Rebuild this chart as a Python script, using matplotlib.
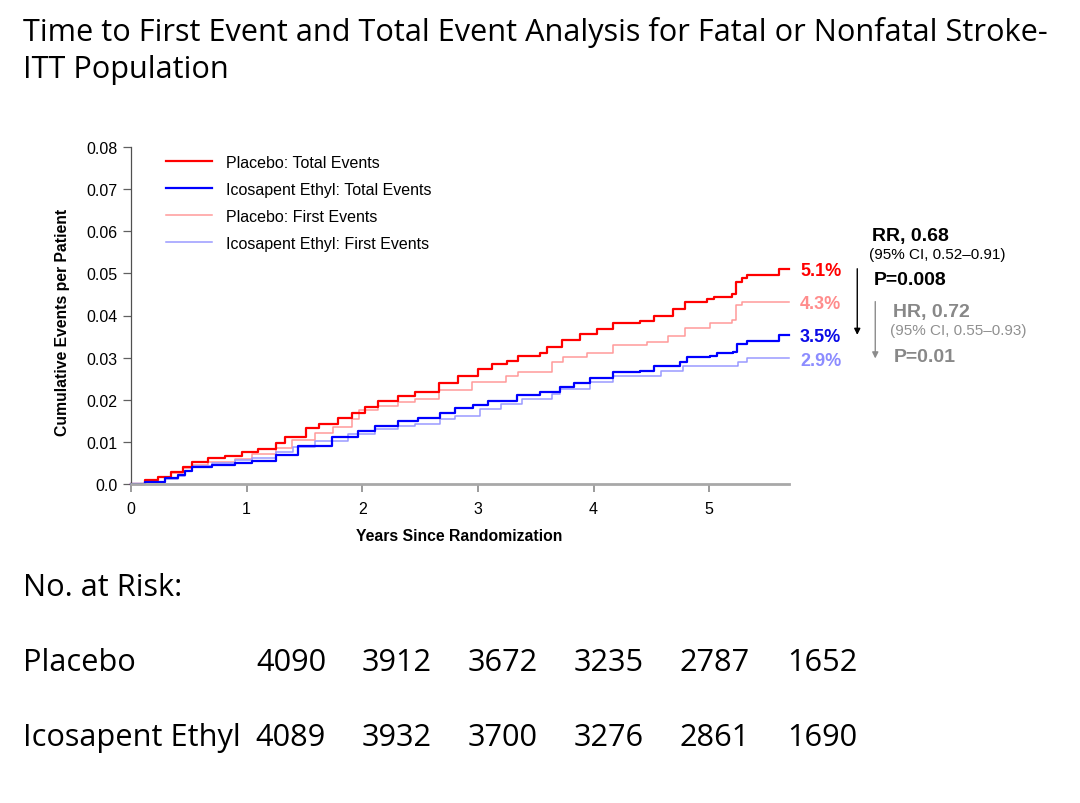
import matplotlib
matplotlib.use('Agg')
import matplotlib.pyplot as plt
from matplotlib import font_manager as fm
import numpy as np

# ---------------- data ----------------
title_lines = ["Time to First Event and Total Event Analysis for Fatal or Nonfatal Stroke-",
               "ITT Population"]

t_pbo_total = [0, 0.12, 0.23, 0.35, 0.45, 0.53, 0.67, 0.81, 0.96, 1.10, 1.25, 1.33, 1.51, 1.63,
               1.79, 1.91, 2.02, 2.14, 2.31, 2.46, 2.66, 2.83, 3.00, 3.12, 3.25, 3.35, 3.54, 3.60,
               3.73, 3.88, 4.03, 4.17, 4.40, 4.52, 4.69, 4.79, 4.98, 5.04, 5.20, 5.23, 5.28, 5.33,
               5.60, 5.69]
v_pbo_total = [0, 0.0010, 0.0017, 0.0029, 0.0040, 0.0052, 0.0061, 0.0067, 0.0075, 0.0084, 0.0098,
               0.0112, 0.0133, 0.0143, 0.0157, 0.0168, 0.0182, 0.0196, 0.0210, 0.0219, 0.0240,
               0.0257, 0.0272, 0.0285, 0.0293, 0.0305, 0.0312, 0.0325, 0.0342, 0.0356, 0.0368,
               0.0382, 0.0388, 0.0400, 0.0416, 0.0433, 0.0438, 0.0445, 0.0451, 0.0480, 0.0489,
               0.0495, 0.0511, 0.0511]

t_pbo_first = [0, 0.12, 0.23, 0.35, 0.45, 0.53, 0.67, 0.90, 1.05, 1.25, 1.39, 1.59, 1.75, 1.91,
               1.97, 2.14, 2.31, 2.46, 2.66, 2.95, 3.24, 3.35, 3.64, 3.74, 3.94, 4.17, 4.46, 4.64,
               4.79, 5.01, 5.20, 5.23, 5.28, 5.69]
v_pbo_first = [0, 0.0010, 0.0016, 0.0027, 0.0037, 0.0045, 0.0053, 0.0060, 0.0071, 0.0085, 0.0105,
               0.0121, 0.0136, 0.0155, 0.0175, 0.0185, 0.0195, 0.0201, 0.0222, 0.0241, 0.0257,
               0.0267, 0.0289, 0.0301, 0.0311, 0.0329, 0.0337, 0.0351, 0.0370, 0.0382, 0.0390,
               0.0426, 0.0433, 0.0433]

t_ipe_total = [0, 0.12, 0.29, 0.41, 0.47, 0.53, 0.70, 0.90, 1.05, 1.25, 1.44, 1.74, 1.96, 2.11,
               2.31, 2.48, 2.67, 2.80, 2.96, 3.09, 3.34, 3.54, 3.71, 3.83, 3.97, 4.17, 4.40, 4.52,
               4.75, 4.81, 5.01, 5.07, 5.21, 5.24, 5.33, 5.60, 5.69]
v_ipe_total = [0, 0.0005, 0.0014, 0.0021, 0.0032, 0.0040, 0.0045, 0.0051, 0.0055, 0.0069, 0.0090,
               0.0111, 0.0127, 0.0137, 0.0150, 0.0156, 0.0168, 0.0180, 0.0188, 0.0198, 0.0211,
               0.0218, 0.0231, 0.0240, 0.0252, 0.0267, 0.0269, 0.0280, 0.0290, 0.0302, 0.0305,
               0.0310, 0.0314, 0.0333, 0.0340, 0.0354, 0.0354]

t_ipe_first = [0, 0.12, 0.29, 0.41, 0.47, 0.53, 0.70, 0.90, 1.05, 1.25, 1.40, 1.59, 1.88, 2.11,
               2.31, 2.46, 2.67, 2.80, 3.02, 3.20, 3.38, 3.64, 3.71, 3.97, 4.17, 4.49, 4.58, 4.77,
               5.24, 5.25, 5.33, 5.69]
v_ipe_first = [0, 0.0005, 0.0013, 0.0020, 0.0031, 0.0042, 0.0050, 0.0058, 0.0062, 0.0075, 0.0088,
               0.0103, 0.0119, 0.0131, 0.0137, 0.0143, 0.0154, 0.0162, 0.0178, 0.0190, 0.0202,
               0.0214, 0.0225, 0.0242, 0.0256, 0.0257, 0.0269, 0.0280, 0.0281, 0.0289, 0.0298,
               0.0298]

series_labels = ["Placebo: Total Events", "Icosapent Ethyl: Total Events",
                 "Placebo: First Events", "Icosapent Ethyl: First Events"]
end_labels = ["5.1%", "3.5%", "4.3%", "2.9%"]

x_ticks = [0, 1, 2, 3, 4, 5]
y_ticks = [0.0, 0.01, 0.02, 0.03, 0.04, 0.05, 0.06, 0.07, 0.08]
y_tick_labels = ["0.0", "0.01", "0.02", "0.03", "0.04", "0.05", "0.06", "0.07", "0.08"]

rr_lines = ["RR, 0.68", "(95% CI, 0.52\u20130.91)", "P=0.008"]
hr_lines = ["HR, 0.72", "(95% CI, 0.55\u20130.93)", "P=0.01"]

risk_groups = ["Placebo", "Icosapent Ethyl"]
risk_placebo = [4090, 3912, 3672, 3235, 2787, 1652]
risk_ipe = [4089, 3932, 3700, 3276, 2861, 1690]

# ---------------- figure ----------------
W, H = 1080, 804
fig = plt.figure(figsize=(W / 100, H / 100), dpi=100)
fig.patch.set_facecolor('white')

def fx(px):
    return px / W

def fy(py):
    return 1 - py / H

avail = {f.name for f in fm.fontManager.ttflist}
head_font = next(f for f in ['Open Sans', 'Noto Sans', 'Lato', 'DejaVu Sans'] if f in avail or f == 'DejaVu Sans')
chart_font = 'Liberation Sans' if 'Liberation Sans' in avail else 'DejaVu Sans'
plt.rcParams['font.family'] = [chart_font, 'DejaVu Sans']

renderer = fig.canvas.get_renderer()

def fit(txt, target_w):
    bb = txt.get_window_extent(renderer)
    txt.set_fontsize(txt.get_fontsize() * target_w / bb.width)
    return txt.get_fontsize()

# title
t1 = fig.text(fx(23), fy(41), title_lines[0], family=head_font, fontsize=20, va='baseline', ha='left')
ts = fit(t1, 1043 - 23)
fig.text(fx(23), fy(78), title_lines[1], family=head_font, fontsize=ts, va='baseline', ha='left')

# ---------------- axes ----------------
ax = fig.add_axes([fx(131), fy(485), (789 - 131) / W, (485 - 148) / H])
ax.set_xlim(0, 5.69)
ax.set_ylim(0, 0.08)

c_red, c_blue, c_lred, c_lblue = '#FF0000', '#0000FF', '#FF9A9A', '#9A9AFF'
l3, = ax.plot(t_pbo_first, v_pbo_first, drawstyle='steps-post', color=c_lred, lw=1.1, label=series_labels[2])
l4, = ax.plot(t_ipe_first, v_ipe_first, drawstyle='steps-post', color=c_lblue, lw=1.1, label=series_labels[3])
l1, = ax.plot(t_pbo_total, v_pbo_total, drawstyle='steps-post', color=c_red, lw=1.6, label=series_labels[0])
l2, = ax.plot(t_ipe_total, v_ipe_total, drawstyle='steps-post', color=c_blue, lw=1.6, label=series_labels[1])
for ln in (l1, l2, l3, l4):
    ln.set_clip_on(False)

for s in ['top', 'right']:
    ax.spines[s].set_visible(False)
ax.spines['left'].set_color('#505050')
ax.spines['left'].set_linewidth(0.9)
ax.spines['bottom'].set_color('#A8A8A8')
ax.spines['bottom'].set_linewidth(2.0)

ax.set_xticks(x_ticks)
ax.set_xticklabels([str(v) for v in x_ticks])
ax.set_yticks(y_ticks)
ax.set_yticklabels(y_tick_labels)
ax.tick_params(axis='x', length=6, width=1.1, color='#808080', pad=6, labelsize=11.5)
ax.tick_params(axis='y', length=6, width=0.9, color='#606060', pad=3.5, labelsize=11.5)

fig.text(fx(459), fy(537), "Years Since Randomization", ha='center', va='center',
         fontsize=11.3, fontweight='bold')
fig.text(fx(62), fy(322), "Cumulative Events per Patient", ha='center', va='center',
         rotation=90, fontsize=11.3, fontweight='bold')

leg = ax.legend(handles=[l1, l2, l3, l4], loc='upper left', frameon=False,
                bbox_to_anchor=(fx(166), fy(156)), bbox_transform=fig.transFigure,
                borderpad=0, borderaxespad=0, handlelength=2.9, handletextpad=0.85,
                labelspacing=0.75, fontsize=11.5)

# end percentages
ends = [(t_pbo_total, v_pbo_total, c_red), (t_ipe_total, v_ipe_total, '#0A0AE6'),
        (t_pbo_first, v_pbo_first, '#FF8C8C'), (t_ipe_first, v_ipe_first, '#8C8CFF')]
for (tt, vv, col), lab in zip(ends, end_labels):
    ax.annotate(lab, xy=(5.69, vv[-1]), xytext=(8, -4.4), textcoords='offset points',
                ha='left', va='baseline', color=col, fontsize=13, fontweight='bold',
                annotation_clip=False)

# arrows
t_arrow1 = (857 - 131) / 115.6
t_arrow2 = (875 - 131) / 115.6
ax.annotate('', xy=(t_arrow1, v_ipe_total[-1]), xytext=(t_arrow1, v_pbo_total[-1]),
            arrowprops=dict(arrowstyle='-|>', color='black', lw=1.0, shrinkA=0, shrinkB=0,
                            mutation_scale=9), annotation_clip=False)
ax.annotate('', xy=(t_arrow2, v_ipe_first[-1]), xytext=(t_arrow2, v_pbo_first[-1]),
            arrowprops=dict(arrowstyle='-|>', color='#8C8C8C', lw=1.0, shrinkA=0, shrinkB=0,
                            mutation_scale=9), annotation_clip=False)

# RR / HR texts
fig.text(fx(872), fy(240.7), rr_lines[0], fontsize=14, fontweight='bold', va='baseline', color='black')
fig.text(fx(869), fy(258.7), rr_lines[1], fontsize=11, va='baseline', color='black')
fig.text(fx(874), fy(285), rr_lines[2], fontsize=14, fontweight='bold', va='baseline', color='black')
fig.text(fx(893), fy(317), hr_lines[0], fontsize=14, fontweight='bold', va='baseline', color='#888888')
fig.text(fx(890), fy(335), hr_lines[1], fontsize=11, va='baseline', color='#909090')
fig.text(fx(894), fy(361.7), hr_lines[2], fontsize=14, fontweight='bold', va='baseline', color='#888888')

# ---------------- number at risk ----------------
g2 = fig.text(fx(23), fy(746), risk_groups[1], family=head_font, fontsize=24, va='baseline', ha='left')
rs = fit(g2, 241 - 23)
fig.text(fx(23), fy(596), "No. at Risk:", family=head_font, fontsize=rs, va='baseline', ha='left')
fig.text(fx(23), fy(671), risk_groups[0], family=head_font, fontsize=rs, va='baseline', ha='left')
col_x = [291, 397, 503, 609, 715, 822]
for cx, a, b in zip(col_x, risk_placebo, risk_ipe):
    fig.text(fx(cx), fy(671), str(a), family=head_font, fontsize=rs, va='baseline', ha='center')
    fig.text(fx(cx), fy(746), str(b), family=head_font, fontsize=rs, va='baseline', ha='center')

fig.savefig('out.png', dpi=100, facecolor='white')
